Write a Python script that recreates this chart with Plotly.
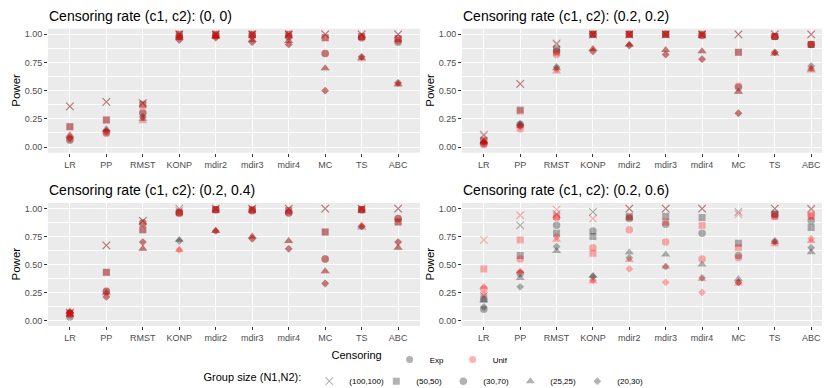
import plotly.graph_objects as go

# methods on the x axis
methods = ["LR", "PP", "RMST", "KONP", "mdir2", "mdir3", "mdir4", "MC", "TS", "ABC"]
groups = ["(100,100)", "(50,50)", "(30,70)", "(25,25)", "(20,30)"]
censoring = ["Exp", "Unif"]
panel_titles = ["Censoring rate (c1, c2): (0, 0)", "Censoring rate (c1, c2): (0.2, 0.2)",
                "Censoring rate (c1, c2): (0.2, 0.4)", "Censoring rate (c1, c2): (0.2, 0.6)"]
y_ticks = [0, 0.25, 0.5, 0.75, 1.0]
y_labels = ["0.00", "0.25", "0.50", "0.75", "1.00"]

# power values, one row per group size (same order as groups)
p1_exp = [
    [0.36, 0.40, 0.39, 1.00, 1.00, 1.00, 1.00, 1.00, 1.00, 1.00],
    [0.18, 0.24, 0.38, 1.00, 1.00, 1.00, 1.00, 0.97, 0.98, 0.96],
    [0.06, 0.13, 0.30, 0.98, 0.99, 0.99, 0.98, 0.83, 0.97, 0.93],
    [0.10, 0.16, 0.25, 0.97, 0.98, 0.95, 0.94, 0.70, 0.79, 0.56],
    [0.08, 0.14, 0.27, 0.95, 0.97, 0.93, 0.91, 0.50, 0.80, 0.57],
]
p1_unif = [
    [0.36, 0.40, 0.39, 1.00, 1.00, 1.00, 1.00, 1.00, 1.00, 1.00],
    [0.18, 0.24, 0.37, 1.00, 1.00, 1.00, 1.00, 0.97, 0.98, 0.96],
    [0.07, 0.12, 0.31, 0.98, 0.99, 0.99, 0.98, 0.83, 0.97, 0.94],
    [0.11, 0.15, 0.23, 0.97, 0.98, 0.95, 0.94, 0.70, 0.78, 0.55],
    [0.08, 0.14, 0.26, 0.95, 0.97, 0.93, 0.91, 0.50, 0.80, 0.57],
]
p2_exp = [
    [0.11, 0.56, 0.92, 1.00, 1.00, 1.00, 1.00, 1.00, 1.00, 1.00],
    [0.06, 0.33, 0.87, 1.00, 1.00, 1.00, 1.00, 0.84, 0.98, 0.91],
    [0.03, 0.20, 0.85, 1.00, 1.00, 1.00, 0.99, 0.53, 0.98, 0.91],
    [0.05, 0.21, 0.70, 0.87, 0.91, 0.86, 0.85, 0.49, 0.83, 0.69],
    [0.04, 0.19, 0.71, 0.85, 0.90, 0.82, 0.78, 0.30, 0.84, 0.72],
]
p2_unif = [
    [0.10, 0.56, 0.91, 1.00, 1.00, 1.00, 1.00, 1.00, 1.00, 1.00],
    [0.05, 0.32, 0.84, 1.00, 1.00, 1.00, 1.00, 0.84, 0.98, 0.91],
    [0.02, 0.16, 0.82, 1.00, 1.00, 1.00, 0.99, 0.54, 0.98, 0.91],
    [0.04, 0.19, 0.67, 0.87, 0.91, 0.86, 0.85, 0.49, 0.83, 0.68],
    [0.04, 0.18, 0.69, 0.85, 0.90, 0.82, 0.78, 0.30, 0.84, 0.70],
]
p3_exp = [
    [0.07, 0.67, 0.89, 1.00, 1.00, 1.00, 1.00, 1.00, 1.00, 1.00],
    [0.06, 0.43, 0.81, 0.97, 0.99, 0.99, 0.98, 0.79, 0.99, 0.88],
    [0.03, 0.26, 0.87, 0.96, 0.99, 0.98, 0.96, 0.55, 0.99, 0.91],
    [0.08, 0.25, 0.64, 0.72, 0.80, 0.75, 0.71, 0.44, 0.83, 0.65],
    [0.07, 0.21, 0.70, 0.71, 0.80, 0.73, 0.64, 0.33, 0.84, 0.70],
]
p3_unif = [
    [0.07, 0.67, 0.89, 0.98, 1.00, 1.00, 1.00, 1.00, 1.00, 1.00],
    [0.06, 0.43, 0.81, 0.96, 0.99, 0.99, 0.98, 0.79, 0.99, 0.88],
    [0.05, 0.26, 0.87, 0.96, 0.99, 0.98, 0.96, 0.55, 0.99, 0.91],
    [0.08, 0.24, 0.64, 0.63, 0.80, 0.75, 0.71, 0.44, 0.85, 0.65],
    [0.07, 0.21, 0.70, 0.63, 0.80, 0.73, 0.64, 0.33, 0.84, 0.70],
]
p4_exp = [
    [0.22, 0.85, 0.95, 0.97, 1.00, 1.00, 1.00, 0.97, 1.00, 1.00],
    [0.19, 0.58, 0.78, 0.75, 0.93, 0.93, 0.92, 0.69, 0.95, 0.83],
    [0.10, 0.42, 0.85, 0.80, 0.91, 0.86, 0.78, 0.58, 0.95, 0.89],
    [0.18, 0.38, 0.62, 0.40, 0.61, 0.59, 0.50, 0.37, 0.70, 0.61],
    [0.12, 0.30, 0.66, 0.39, 0.56, 0.48, 0.38, 0.34, 0.71, 0.65],
]
p4_unif = [
    [0.72, 0.94, 0.99, 0.91, 1.00, 1.00, 1.00, 0.95, 1.00, 0.99],
    [0.46, 0.72, 0.93, 0.60, 0.92, 0.88, 0.85, 0.65, 0.93, 0.93],
    [0.28, 0.55, 0.92, 0.65, 0.81, 0.70, 0.55, 0.56, 0.93, 0.94],
    [0.30, 0.44, 0.72, 0.35, 0.54, 0.48, 0.37, 0.33, 0.68, 0.71],
    [0.23, 0.43, 0.75, 0.36, 0.46, 0.34, 0.25, 0.34, 0.70, 0.73],
]
panels = [(p1_exp, p1_unif), (p2_exp, p2_unif), (p3_exp, p3_unif), (p4_exp, p4_unif)]

symbols = ["x-thin-open", "square", "circle", "triangle-up", "diamond"]
sizes = [7.5, 7, 7.5, 8, 6]
colors = {"Exp": "rgba(0,0,0,0.3)", "Unif": "rgba(255,0,0,0.3)"}

W, H = 830, 388
# panel boxes in pixels: (left, right, top, bottom)
boxes = [(40, 412, 21, 147), (454, 825, 21, 147), (40, 412, 198, 323), (454, 825, 198, 323)]

fig = go.Figure()

for i, (exp_vals, unif_vals) in enumerate(panels):
    ax = "" if i == 0 else str(i + 1)
    for cens, vals in zip(censoring, [exp_vals, unif_vals]):
        for g in range(len(groups)):
            fig.add_trace(go.Scatter(
                x=methods, y=vals[g], mode="markers",
                xaxis="x" + ax, yaxis="y" + ax, showlegend=False, hoverinfo="skip",
                marker=dict(symbol=symbols[g], size=sizes[g], color=colors[cens],
                            line=dict(width=1.1 if g == 0 else 0, color=colors[cens]))))

# legend entries
for cens in censoring:
    fig.add_trace(go.Scatter(x=[None], y=[None], mode="markers", name=cens, legend="legend",
                             marker=dict(symbol="circle", size=7, color=colors[cens])))
for g in range(len(groups)):
    fig.add_trace(go.Scatter(x=[None], y=[None], mode="markers", name=groups[g], legend="legend2",
                             marker=dict(symbol=symbols[g], size=sizes[g], color="rgba(0,0,0,0.3)",
                                         line=dict(width=1.1 if g == 0 else 0, color="rgba(0,0,0,0.3)"))))

layout = dict(
    width=W, height=H, margin=dict(l=0, r=0, t=0, b=0),
    paper_bgcolor="white", plot_bgcolor="#EBEBEB",
    font=dict(family="Liberation Sans, Arial, sans-serif", color="#4D4D4D"),
    legend=dict(orientation="h", x=0.5, xanchor="center", y=1 - 357 / H, yanchor="middle",
                title=dict(text="Censoring", side="left", font=dict(size=11, color="black")),
                font=dict(size=8, color="black"), itemwidth=30, entrywidth=18,
                bgcolor="rgba(0,0,0,0)"),
    legend2=dict(orientation="h", x=0.5, xanchor="center", y=1 - 379 / H, yanchor="middle",
                 title=dict(text="Group size (N1,N2):", side="left", font=dict(size=11, color="black")),
                 font=dict(size=8, color="black"), itemwidth=30, entrywidth=22,
                 bgcolor="rgba(0,0,0,0)"),
    annotations=[],
)

for i, (l, r, t, b) in enumerate(boxes):
    ax = "" if i == 0 else str(i + 1)
    layout["xaxis" + ax] = dict(
        domain=[l / W, r / W], anchor="y" + ax, type="category", range=[-0.6, 9.6],
        categoryorder="array", categoryarray=methods,
        showgrid=True, gridcolor="white", gridwidth=1.1, zeroline=False, showline=False,
        ticks="outside", ticklen=3, tickcolor="#333333", tickwidth=1,
        tickfont=dict(size=9, color="#4D4D4D"), fixedrange=True)
    layout["yaxis" + ax] = dict(
        domain=[1 - b / H, 1 - t / H], anchor="x" + ax, range=[-0.05, 1.05],
        tickvals=y_ticks, ticktext=y_labels,
        showgrid=True, gridcolor="white", gridwidth=1.1, zeroline=False, showline=False,
        ticks="outside", ticklen=3, tickcolor="#333333", tickwidth=1,
        tickfont=dict(size=9, color="#4D4D4D"),
        minor=dict(tick0=0.125, dtick=0.25, showgrid=True, gridcolor="white", gridwidth=0.5),
        fixedrange=True)
    layout["annotations"].append(dict(
        text=panel_titles[i], x=(l - 1) / W, y=1 - (t - 3) / H, xref="paper", yref="paper",
        xanchor="left", yanchor="bottom", showarrow=False,
        font=dict(size=14, color="black")))
    layout["annotations"].append(dict(
        text="Power", x=(l - 32) / W, y=1 - (t + b) / 2 / H, xref="paper", yref="paper",
        xanchor="center", yanchor="middle", textangle=-90, showarrow=False,
        font=dict(size=11.5, color="black")))

fig.update_layout(**layout)
fig.write_html("out.html")
